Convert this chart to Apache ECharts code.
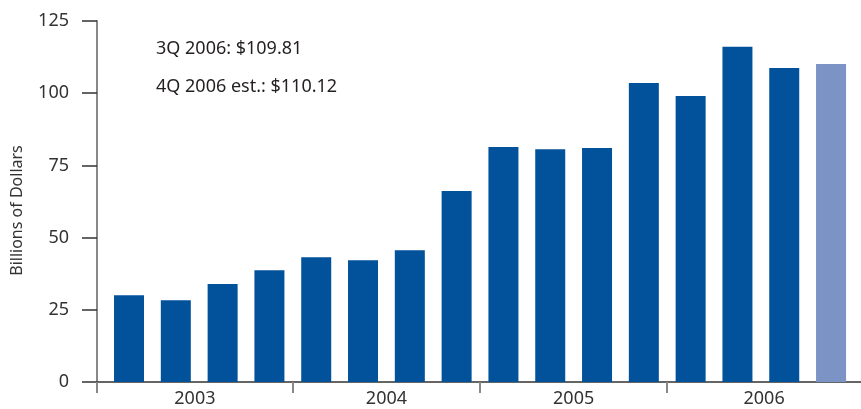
<!DOCTYPE html>
<html>
<head>
<meta charset="utf-8">
<script src="https://cdn.jsdelivr.net/npm/echarts@6/dist/echarts.min.js"></script>
<style>
  html, body { margin: 0; padding: 0; background: #ffffff; }
  #chart { width: 861px; height: 409px; }
</style>
</head>
<body>
<div id="chart"></div>
<script>
// ---- data ----
const years = ['2003', '2004', '2005', '2006'];
const quarters = [
  '1Q 2003', '2Q 2003', '3Q 2003', '4Q 2003',
  '1Q 2004', '2Q 2004', '3Q 2004', '4Q 2004',
  '1Q 2005', '2Q 2005', '3Q 2005', '4Q 2005',
  '1Q 2006', '2Q 2006', '3Q 2006', '4Q 2006 est.'
];
const values = [30.0, 28.3, 33.9, 38.7, 43.2, 42.2, 45.6, 66.1, 81.4, 80.6, 81.0, 103.5, 99.0, 116.1, 108.7, 110.1];
const isEstimate = [false, false, false, false, false, false, false, false, false, false, false, false, false, false, false, true];
const yTicks = [0, 25, 50, 75, 100, 125];
const annotations = ['3Q 2006: $109.81', '4Q 2006 est.: $110.12'];

// ---- layout helpers ----
const quartersPerYear = 4;
const xMin = -0.684;
const xMax = 15.64;
const boundaries = [];
for (let i = 1; i < years.length; i++) boundaries.push(i * quartersPerYear - 0.5);
const edges = [xMin].concat(boundaries).concat([xMax]);
const labelPos = years.map((y, i) => (edges[i] + edges[i + 1]) / 2);

const DARK = '#02529b';
const LIGHT = '#7b93c5';
const TEXT = '#333333';
const FONT = '"Noto Sans", "Open Sans", sans-serif';

const barData = values.map((v, i) => ({
  value: [i, v],
  name: quarters[i],
  itemStyle: { color: isEstimate[i] ? LIGHT : DARK }
}));

const chart = echarts.init(document.getElementById('chart'), null, { renderer: 'canvas' });
chart.setOption({
  animation: false,
  backgroundColor: '#ffffff',
  textStyle: { fontFamily: FONT },
  grid: { left: 97, right: 0, top: 21, bottom: 27, containLabel: false, outerBoundsMode: 'none' },
  xAxis: {
    type: 'value',
    min: xMin,
    max: xMax,
    splitLine: { show: false },
    axisLine: { show: true, onZero: false, lineStyle: { color: '#333333', width: 1.5 } },
    axisTick: {
      show: true,
      customValues: [xMin].concat(boundaries),
      length: 11,
      lineStyle: { color: '#888888', width: 2 }
    },
    axisLabel: {
      show: true,
      customValues: labelPos,
      margin: 8,
      fontSize: 18,
      color: TEXT,
      fontFamily: FONT,
      formatter: function (val) {
        let best = 0, d = Infinity;
        labelPos.forEach((p, i) => { if (Math.abs(p - val) < d) { d = Math.abs(p - val); best = i; } });
        return years[best];
      }
    }
  },
  yAxis: {
    type: 'value',
    min: yTicks[0],
    max: yTicks[yTicks.length - 1],
    interval: 25,
    name: 'Billions of Dollars',
    nameLocation: 'middle',
    nameGap: 72,
    nameRotate: 90,
    nameMoveOverlap: false,
    nameTextStyle: { fontSize: 16, color: TEXT, fontFamily: FONT, padding: [0, 18, 0, 0] },
    splitLine: { show: false },
    axisLine: { show: true, onZero: false, lineStyle: { color: '#888888', width: 2 } },
    axisTick: { show: true, inside: false, length: 15, lineStyle: { color: '#333333', width: 1.5 } },
    axisLabel: { margin: 28, fontSize: 18, color: TEXT, fontFamily: FONT }
  },
  series: [{
    type: 'bar',
    barWidth: 30,
    data: barData
  }],
  graphic: annotations.map((t, i) => ({
    type: 'text',
    left: 156,
    top: 40 + i * 38,
    style: { text: t, fontSize: 18, fill: '#231f20', fontFamily: FONT }
  }))
});
</script>
</body>
</html>
